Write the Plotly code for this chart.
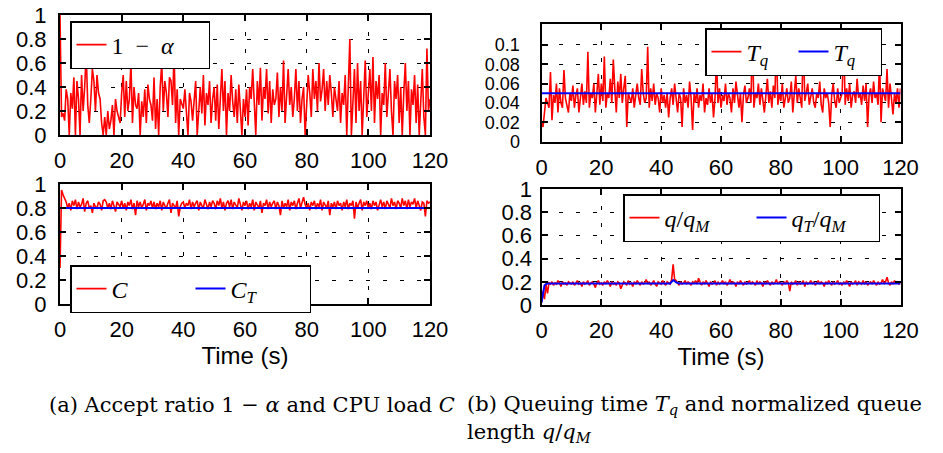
import plotly.graph_objects as go

# ---------------- data ----------------
# 1 - alpha, hundredths, sampled every 0.5 s
accept_pct = [
    100, 15, 18, 12, 38, 30, 0, 35, 22, 48, 0, 45, 30, 0, 50, 20, 40, 68, 25, 10,
    30, 55, 45, 20, 50, 35, 30, 10, 0, 15, 0, 20, 5, 12, 25, 0, 30, 20, 15, 10,
    35, 50, 15, 45, 20, 30, 60, 10, 40, 25, 22, 35, 0, 28, 15, 38, 10, 42, 30, 25,
    12, 48, 5, 30, 0, 40, 60, 20, 45, 35, 15, 48, 45, 25, 68, 10, 38, 0, 30, 25,
    22, 38, 15, 0, 35, 28, 12, 30, 45, 0, 25, 40, 18, 50, 8, 35, 25, 45, 10, 30,
    40, 12, 42, 5, 30, 55, 20, 45, 0, 35, 20, 50, 28, 15, 38, 10, 42, 25, 0, 30,
    15, 38, 8, 40, 30, 55, 20, 0, 45, 25, 56, 12, 40, 30, 55, 18, 45, 10, 38, 25,
    30, 52, 15, 40, 20, 62, 10, 35, 55, 25, 40, 15, 30, 55, 20, 45, 10, 30, 40, 0,
    25, 50, 35, 15, 55, 30, 45, 20, 60, 28, 38, 55, 20, 45, 25, 50, 35, 15, 40, 30,
    20, 45, 10, 35, 25, 50, 0, 40, 80, 0, 30, 55, 10, 60, 20, 45, 0, 30, 62, 15,
    40, 55, 20, 65, 10, 45, 30, 50, 0, 35, 25, 60, 15, 40, 55, 20, 0, 45, 30, 50,
    10, 40, 0, 35, 60, 20, 45, 0, 38, 25, 50, 10, 42, 0, 30, 55, 15, 0, 72, 20,
    30,
]

# CPU load C, hundredths, every 0.5 s
cpu_pct = [
    30, 95, 91, 88, 85, 80, 84, 78, 86, 82, 87, 79, 85, 81, 83, 88, 77, 84, 86, 80,
    82, 76, 84, 81, 80, 85, 83, 78, 86, 87, 85, 80, 84, 79, 86, 82, 77, 85, 83, 81,
    86, 80, 84, 78, 85, 82, 87, 79, 84, 74, 86, 81, 85, 80, 83, 87, 78, 84, 82, 86,
    80, 85, 79, 84, 81, 86, 78, 85, 82, 80, 84, 87, 76, 84, 82, 80, 86, 73, 81, 84,
    85, 80, 84, 82, 87, 79, 85, 81, 84, 86, 78, 85, 82, 80, 87, 83, 79, 85, 81, 86,
    84, 79, 86, 82, 88, 80, 85, 78, 84, 86, 81, 87, 79, 85, 82, 80, 88, 83, 78, 85,
    82, 86, 79, 84, 81, 87, 78, 85, 83, 80, 86, 76, 84, 82, 87, 79, 85, 81, 84, 86,
    79, 85, 82, 74, 86, 80, 84, 81, 87, 78, 85, 82, 86, 79, 84, 88, 80, 85, 89, 83,
    80, 84, 78, 85, 82, 86, 79, 84, 81, 87, 78, 85, 82, 80, 86, 74, 84, 81, 85, 79,
    86, 82, 84, 78, 85, 81, 87, 79, 84, 82, 86, 71, 85, 80, 84, 87, 78, 85, 82, 86,
    80, 84, 79, 86, 82, 85, 78, 84, 87, 81, 85, 79, 86, 83, 80, 88, 82, 85, 79, 86,
    84, 80, 88, 82, 86, 79, 87, 81, 85, 83, 88, 80, 86, 82, 78, 85, 84, 73, 86, 84,
    85,
]
cpu_target_t = [0, 120]
cpu_target = [0.8, 0.8]

# Queuing time Tq, milliseconds, every 0.5 s
tq_ms = [
    20, 15, 30, 45, 40, 35, 72, 22, 48, 40, 60, 30, 55, 40, 35, 74, 45, 38, 30, 50,
    42, 58, 35, 48, 55, 30, 45, 60, 38, 52, 40, 93, 35, 50, 45, 60, 30, 55, 70, 38,
    60, 42, 88, 35, 50, 45, 65, 40, 85, 55, 30, 62, 45, 70, 40, 55, 68, 15, 50, 45,
    40, 55, 35, 48, 60, 45, 38, 75, 50, 40, 45, 98, 35, 55, 42, 60, 38, 50, 45, 30,
    55, 40, 48, 35, 50, 25, 45, 55, 38, 60, 42, 30, 50, 45, 15, 55, 40, 48, 35, 62,
    45, 12, 50, 40, 55, 35, 48, 42, 60, 30, 45, 38, 55, 40, 50, 25, 45, 85, 40, 55,
    35, 48, 42, 60, 38, 50, 45, 30, 55, 40, 62, 45, 35, 50, 20, 48, 58, 40, 45, 55,
    40, 110, 35, 50, 45, 60, 38, 55, 42, 30, 48, 65, 40, 52, 35, 58, 45, 105, 38, 50,
    42, 60, 35, 48, 55, 40, 45, 62, 30, 50, 68, 40, 55, 45, 35, 110, 42, 50, 60, 38,
    48, 55, 40, 35, 50, 45, 62, 38, 30, 55, 45, 50, 40, 15, 48, 60, 42, 35, 55, 40,
    45, 50, 110, 38, 55, 42, 60, 35, 48, 52, 40, 65, 45, 50, 38, 58, 42, 60, 15, 48,
    55, 40, 62, 45, 50, 38, 85, 20, 55, 48, 42, 75, 35, 60, 45, 28, 50, 40, 55, 35,
    55,
]
tq_target_t = [0, 120]
tq_target = [0.05, 0.05]

# Normalized queue length q/qM, hundredths, every 0.5 s
queue_pct = [
    2, 12, 5, 18, 10, 19, 18, 20, 17, 19, 18, 21, 19, 16, 20, 18, 19, 17, 20, 19,
    18, 20, 17, 19, 21, 18, 19, 16, 20, 18, 19, 21, 17, 19, 20, 18, 15, 19, 21, 18,
    19, 17, 20, 18, 21, 19, 16, 20, 18, 19, 17, 20, 19, 14, 18, 20, 19, 17, 21, 18,
    19, 16, 20, 18, 21, 19, 17, 20, 18, 19, 22, 18, 20, 17, 19, 21, 18, 16, 20, 19,
    18, 21, 19, 17, 20, 19, 18, 22, 35, 22, 21, 19, 17, 20, 18, 19, 21, 18, 20, 19,
    17, 20, 19, 21, 18, 23, 19, 17, 20, 18, 21, 19, 16, 20, 18, 19, 21, 17, 20, 18,
    19, 21, 18, 20, 17, 19, 22, 18, 20, 19, 16, 20, 18, 21, 19, 17, 20, 18, 19, 21,
    18, 20, 19, 17, 21, 18, 20, 19, 16, 20, 18, 21, 19, 17, 20, 18, 19, 22, 18, 20,
    19, 17, 20, 18, 21, 19, 12, 20, 18, 19, 21, 17, 20, 18, 19, 21, 16, 20, 18, 19,
    21, 18, 20, 17, 19, 21, 18, 20, 19, 16, 20, 18, 21, 19, 17, 20, 18, 19, 21, 18,
    19, 17, 20, 18, 21, 19, 16, 20, 18, 19, 21, 17, 20, 19, 18, 21, 18, 20, 17, 19,
    20, 18, 21, 19, 17, 20, 18, 19, 22, 18, 20, 24, 19, 17, 20, 18, 21, 19, 20, 18,
    19,
]
queue_target_t = [0, 0.5, 1, 1.5, 2, 43, 44, 45, 46, 120]
queue_target = [0.02, 0.12, 0.17, 0.18, 0.185, 0.185, 0.215, 0.195, 0.185, 0.185]

x_ticks = [0, 20, 40, 60, 80, 100, 120]
y_ticks_unit = [0, 0.2, 0.4, 0.6, 0.8, 1]
y_ticks_tq = [0, 0.02, 0.04, 0.06, 0.08, 0.1]
y_ticktext_tq = ["0", "0.02", "0.04", "0.06", "0.08", "0.1"]

SAMPLE = 0.5


def times(n):
    return [i * SAMPLE for i in range(n)]


RED = "#ff0000"
BLUE = "#0000ff"
W, H = 943, 453
SP = "\u2002"  # en space for math-like spacing

fig = go.Figure()

fig.add_trace(go.Scatter(x=times(len(accept_pct)), y=[v / 100 for v in accept_pct],
                         mode="lines", line=dict(color=RED, width=1.6),
                         name="1" + SP + "\u2212" + SP + "<i>\u03b1</i>",
                         xaxis="x", yaxis="y", legend="legend"))
fig.add_trace(go.Scatter(x=times(len(cpu_pct)), y=[v / 100 for v in cpu_pct],
                         mode="lines", line=dict(color=RED, width=1.6),
                         name="<i>C</i>", xaxis="x2", yaxis="y2", legend="legend2"))
fig.add_trace(go.Scatter(x=cpu_target_t, y=cpu_target, mode="lines",
                         line=dict(color=BLUE, width=2),
                         name="<i>C</i><sub><i>T</i></sub>", xaxis="x2", yaxis="y2", legend="legend2"))
fig.add_trace(go.Scatter(x=times(len(tq_ms)), y=[v / 1000 for v in tq_ms],
                         mode="lines", line=dict(color=RED, width=1.6),
                         name="<i>T</i><sub><i>q</i></sub>", xaxis="x3", yaxis="y3", legend="legend3"))
fig.add_trace(go.Scatter(x=tq_target_t, y=tq_target, mode="lines",
                         line=dict(color=BLUE, width=2),
                         name="<i>T</i><sub><i>q</i></sub>", xaxis="x3", yaxis="y3", legend="legend3"))
fig.add_trace(go.Scatter(x=times(len(queue_pct)), y=[v / 100 for v in queue_pct],
                         mode="lines", line=dict(color=RED, width=1.6),
                         name="<i>q</i>/<i>q</i><sub><i>M</i></sub>", xaxis="x4", yaxis="y4", legend="legend4"))
fig.add_trace(go.Scatter(x=queue_target_t, y=queue_target, mode="lines",
                         line=dict(color=BLUE, width=2),
                         name="<i>q</i><sub><i>T</i></sub>/<i>q</i><sub><i>M</i></sub>", xaxis="x4", yaxis="y4", legend="legend4"))

SANS = "Liberation Sans, Arial, sans-serif"
TICKFONT = dict(family=SANS, size=22, color="black")


def px_x(a, b):
    return [a / W, b / W]


def px_y(top, bottom):
    return [1 - bottom / H, 1 - top / H]


def xaxis(domain, anchor, title=None):
    d = dict(domain=domain, anchor=anchor, range=[0, 120], tickvals=x_ticks,
             ticks="inside", ticklen=6, tickcolor="black", tickwidth=1.5,
             showline=True, linecolor="black", linewidth=2, mirror="ticks",
             showgrid=True, gridcolor="black", gridwidth=1.3, griddash="4px,13px",
             zeroline=False, tickfont=TICKFONT, ticklabelstandoff=5, automargin=False)
    if title:
        d["title"] = dict(text=title, font=dict(family=SANS, size=24, color="black"), standoff=0)
    return d


def yaxis(domain, anchor, rng, vals, text=None, font=TICKFONT, standoff=6):
    d = dict(domain=domain, anchor=anchor, range=rng, tickvals=vals,
             ticks="inside", ticklen=6, tickcolor="black", tickwidth=1.5,
             showline=True, linecolor="black", linewidth=2, mirror="ticks",
             showgrid=True, gridcolor="black", gridwidth=1.3, griddash="4px,13px",
             zeroline=False, tickfont=font, ticklabelstandoff=standoff, automargin=False)
    if text:
        d["ticktext"] = text
    return d


LX = px_x(60, 430)
RX = px_x(541.5, 900.5)

legend_common = dict(bgcolor="white", bordercolor="black", borderwidth=1.5,
                     font=dict(family="Liberation Serif, Times New Roman, serif", size=24, color="black"),
                     xanchor="left", yanchor="top", orientation="h", tracegroupgap=0,
                     itemwidth=30)

fig.update_layout(
    width=W, height=H,
    margin=dict(l=0, r=0, t=0, b=0, autoexpand=False),
    paper_bgcolor="white", plot_bgcolor="white",
    showlegend=True,
    xaxis=xaxis(LX, "y"),
    yaxis=yaxis(px_y(15, 135), "x", [0, 1], y_ticks_unit, standoff=7),
    xaxis2=xaxis(LX, "y2", "Time (s)"),
    yaxis2=yaxis(px_y(184, 304), "x2", [0, 1], y_ticks_unit, standoff=7),
    xaxis3=xaxis(RX, "y3"),
    yaxis3=yaxis(px_y(24, 141.5), "x3", [0, 0.1217], y_ticks_tq, y_ticktext_tq,
                 font=dict(family=SANS, size=18, color="black"), standoff=16),
    xaxis4=xaxis(RX, "y4", "Time (s)"),
    yaxis4=yaxis(px_y(189, 305), "x4", [0, 1], y_ticks_unit, standoff=3),
    legend=dict(legend_common, x=70 / W, y=1 - 21 / H, entrywidth=92),
    legend2=dict(legend_common, x=70 / W, y=1 - 265 / H, entrywidth=74),
    legend3=dict(legend_common, x=705 / W, y=1 - 28 / H, entrywidth=42),
    legend4=dict(legend_common, x=623 / W, y=1 - 194 / H, entrywidth=82),
)

CAPFONT = dict(family="DejaVu Serif, serif", size=21, color="black")
fig.add_annotation(x=48 / W, y=1 - 405 / H, xref="paper", yref="paper", xanchor="left", yanchor="middle",
                   showarrow=False, font=CAPFONT, borderpad=0,
                   text="(a) Accept ratio 1 \u2212 <i>\u03b1</i> and CPU load <i>C</i>")
fig.add_annotation(x=466 / W, y=1 - 405 / H, xref="paper", yref="paper", xanchor="left", yanchor="middle",
                   showarrow=False, font=CAPFONT, borderpad=0,
                   text="(b) Queuing time <i>T</i><sub><i>q</i></sub> and normalized queue")
fig.add_annotation(x=466 / W, y=1 - 433 / H, xref="paper", yref="paper", xanchor="left", yanchor="middle",
                   showarrow=False, font=CAPFONT, borderpad=0,
                   text="length <i>q</i>/<i>q</i><sub><i>M</i></sub>")

fig.write_html("out.html", config={"displayModeBar": False},
               post_script="document.body.style.margin='0px';")
